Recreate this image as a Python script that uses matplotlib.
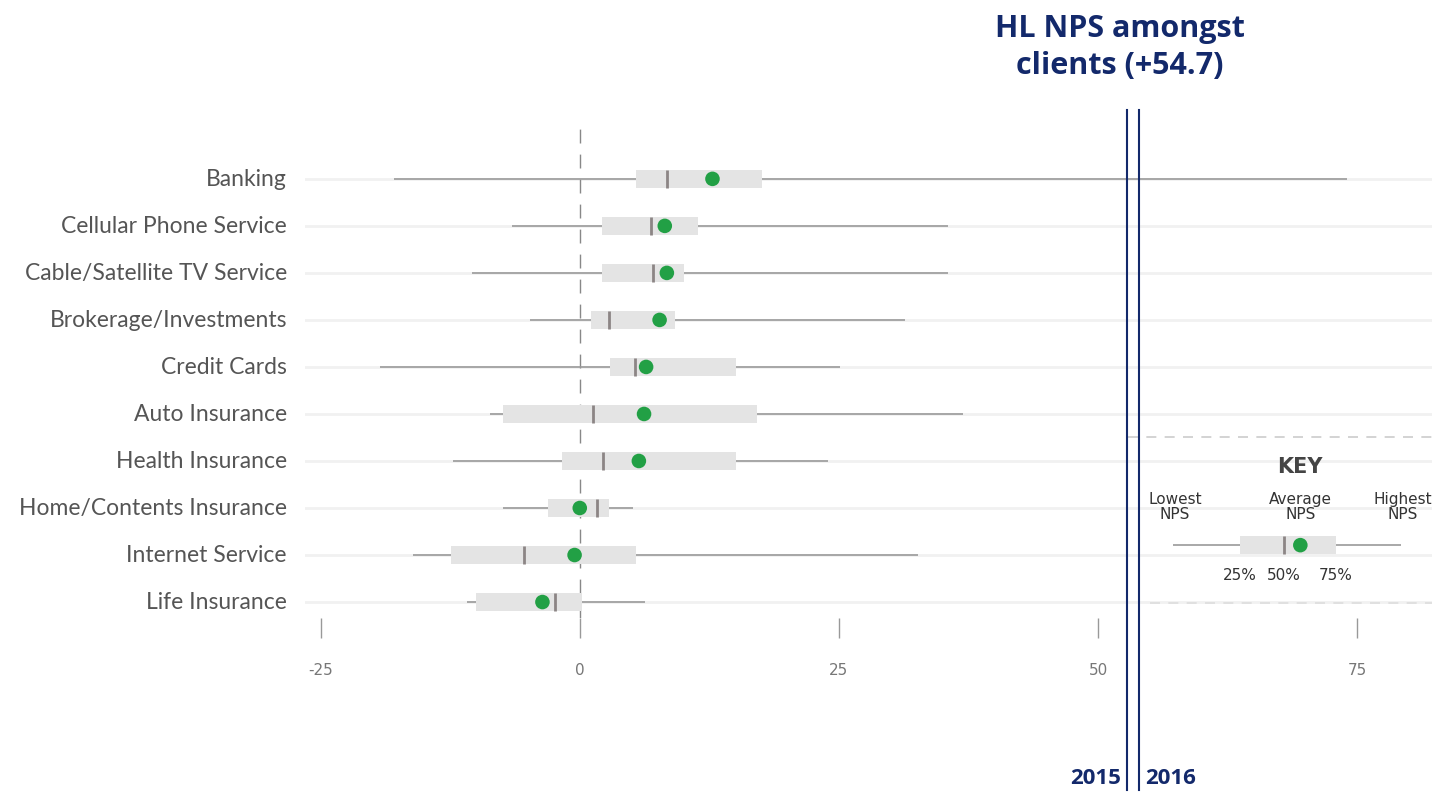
import numpy as np
import matplotlib.pyplot as plt
import matplotlib.transforms as mtransforms

categories = ["Banking", "Cellular Phone Service", "Cable/Satellite TV Service",
              "Brokerage/Investments", "Credit Cards", "Auto Insurance",
              "Health Insurance", "Home/Contents Insurance", "Internet Service",
              "Life Insurance"]
low = [-17.9, -6.5, -10.4, -4.8, -19.3, -8.7, -12.2, -7.4, -16.1, -10.9]
q1 = [5.4, 2.1, 2.1, 1.1, 2.9, -7.4, -1.7, -3.1, -12.4, -10.0]
median = [8.4, 6.9, 7.1, 2.8, 5.3, 1.3, 2.2, 1.7, -5.4, -2.4]
q3 = [17.6, 11.4, 10.1, 9.2, 15.1, 17.1, 15.1, 2.8, 5.4, 0.2]
high = [74.0, 35.5, 35.5, 31.4, 25.1, 37.0, 23.9, 5.1, 32.6, 6.3]
average = [12.8, 8.2, 8.4, 7.7, 6.4, 6.2, 5.7, 0.0, -0.5, -3.6]

# key example: low, q1, median, q3, high, average
key_vals = [57.2, 63.7, 67.9, 72.9, 79.2, 69.5]

years = ["2015", "2016"]
year_pos = [52.8, 53.9]

ticks = [-25, 0, 25, 50, 75]
tick_labels = ["-25", "0", "25", "50", "75"]

navy = "#13296b"
green = "#22a045"
box_c = "#e4e4e4"
whisk_c = "#9a9a9a"
med_c = "#8c8585"

fig = plt.figure(figsize=(14.32, 7.99), dpi=100)
ax = fig.add_axes([0.213, 0.2265, 0.787, 0.6235])
xmin, xmax = -26.5, 82.2
ax.set_xlim(xmin, xmax)
ax.set_ylim(9.34, -1.255)

y = np.arange(len(categories))
for i in y:
    ax.axhline(i, color="#f1f1f1", lw=2, zorder=0)
ax.hlines(y, low, high, color=whisk_c, lw=1.2, zorder=1)
ax.barh(y, np.array(q3) - np.array(q1), left=q1, height=0.38, color=box_c, zorder=2)
ax.vlines(median, y - 0.19, y + 0.19, color=med_c, lw=2, zorder=3)
ax.scatter(average, y, s=110, color=green, zorder=4, edgecolors="none")

ax.axvline(0, color="#888888", lw=1, ls=(0, (10, 8)), zorder=0.5)

ax.set_yticks(y)
ax.set_yticklabels(categories, fontsize=16.5, color="#555555", family="Lato", va="bottom")
ax.tick_params(axis="y", length=0, pad=13)
for t in ax.get_yticklabels():
    t.set_y(t.get_position()[1])
ax.set_xticks(ticks)
ax.set_xticklabels(tick_labels, fontsize=11, color="#777777")
ax.tick_params(axis="x", length=14.4, width=1, color="#999999", pad=18, direction="out")
for s in ax.spines.values():
    s.set_visible(False)

# nudge category labels so they sit slightly above the row line
offset = mtransforms.ScaledTranslation(0, -8 / 72, fig.dpi_scale_trans)
for t in ax.get_yticklabels():
    t.set_transform(t.get_transform() + offset)

# key
ky = 7.79
ax.plot([52.9, xmax], [5.49, 5.49], color="#cccccc", lw=1.2, ls=(0, (6, 5)), zorder=0.5)
ax.plot([55.0, xmax], [9.02, 9.02], color="#dddddd", lw=1.2, ls=(0, (6, 5)), zorder=0.5, clip_on=False)
kl, kq1, kmed, kq3, kh, kavg = key_vals
ax.hlines(ky, kl, kh, color=whisk_c, lw=1.2, zorder=1)
ax.barh(ky, kq3 - kq1, left=kq1, height=0.38, color=box_c, zorder=2)
ax.vlines(kmed, ky - 0.19, ky + 0.19, color=med_c, lw=2, zorder=3)
ax.scatter([kavg], [ky], s=110, color=green, zorder=4, edgecolors="none")
ax.text(69.5, 6.13, "KEY", ha="center", va="center", fontsize=15, fontweight="bold",
        color="#444444")
for xx, lab in zip([57.4, 69.5, 79.4], ["Lowest\nNPS", "Average\nNPS", "Highest\nNPS"]):
    ax.text(xx, 6.98, lab, ha="center", va="center", fontsize=11, color="#333333",
            linespacing=0.95)
for xx, lab in zip([kq1, kmed, kq3], ["25%", "50%", "75%"]):
    ax.text(xx, 8.43, lab, ha="center", va="center", fontsize=11, color="#333333")

# year lines
trans = mtransforms.blended_transform_factory(ax.transData, fig.transFigure)
for xp in year_pos:
    ax.plot([xp, xp], [0.011, 0.862], color=navy, lw=1.5, transform=trans, clip_on=False, zorder=5)
ax.annotate(years[0], (year_pos[0], 0.013), xycoords=trans, xytext=(-6, 0),
            textcoords="offset pixels", ha="right", va="bottom", fontsize=16,
            fontweight="bold", color=navy, family="Open Sans")
ax.annotate(years[1], (year_pos[1], 0.013), xycoords=trans, xytext=(7, 0),
            textcoords="offset pixels", ha="left", va="bottom", fontsize=16,
            fontweight="bold", color=navy, family="Open Sans")

fig.text(0.782, 0.94, "HL NPS amongst\nclients (+54.7)", ha="center", va="center",
         fontsize=22, fontweight="bold", color=navy, family="Open Sans", linespacing=1.3)

fig.savefig("out.png", dpi=100)
